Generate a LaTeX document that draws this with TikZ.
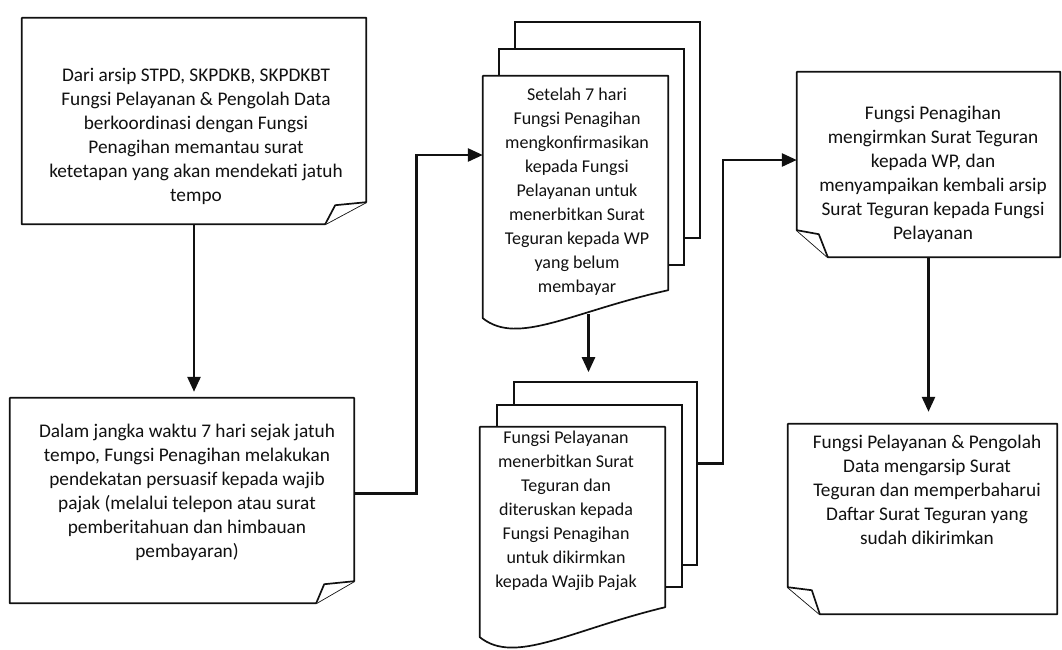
\documentclass[tikz,border=0pt]{standalone}
\usepackage{fontspec}
\setmainfont{Carlito}
\usetikzlibrary{arrows.meta,calc}
\definecolor{inkcolor}{HTML}{111111}

\begin{document}
\begin{tikzpicture}[x=1pt, y=-1pt,
        page/.style = {rectangle, draw = inkcolor, fill = white, line width = 1.7pt, inner sep = 0pt},
        outline/.style = {draw = inkcolor, fill = white, line width = 1.7pt, line join = round},
        link/.style = {-{Triangle[width = 13pt, length = 15pt]}, line width = 2.6pt, draw = inkcolor},
        txt/.style = {align = center, text = inkcolor, font = \fontsize{19.3}{24}\selectfont},
        doctxt/.style = {align = center, text = inkcolor, font = \fontsize{18}{24}\selectfont}]
        \fill [white] (0, 0) rectangle (1062, 649);
        \useasboundingbox (0, 0) rectangle (1062, 649);

        % Nodes (areas of the notes)
        \node [inner sep = 0pt, minimum width = 344pt, minimum height = 206pt] (arsip) at (194, 121) {};
        \node [inner sep = 0pt, minimum width = 344pt, minimum height = 205pt] (persuasif) at (182, 500.5) {};
        \node [inner sep = 0pt, minimum width = 263pt, minimum height = 185pt] (kirim) at (928.5, 164.5) {};
        \node [inner sep = 0pt, minimum width = 269pt, minimum height = 190pt] (arsipSurat) at (922.5, 519) {};

        % Stacked pages
        \node [page, minimum width = 185pt, minimum height = 216pt] (konfirmasiBack) at (607.5, 130) {};
        \node [page, minimum width = 185pt, minimum height = 216pt] (konfirmasiMid) at (591.5, 157) {};
        \node [inner sep = 0pt, minimum width = 185pt, minimum height = 242pt] (konfirmasi) at (575.5, 197) {};
        \node [page, minimum width = 183pt, minimum height = 183pt] (terbitBack) at (605.5, 473.5) {};
        \node [page, minimum width = 185pt, minimum height = 182pt] (terbitMid) at (589.5, 496) {};
        \node [inner sep = 0pt, minimum width = 185pt, minimum height = 210pt] (terbit) at (572.5, 532) {};

        % Outlines
        \draw [outline] (arsip.north west) -- (arsip.north east) -- ($(arsip.south east) + (0, -22)$) -- ($(arsip.south east) + (-41, 0)$) -- (arsip.south west) -- cycle;
        \draw [outline] ($(arsip.south east) + (0, -22)$) -- ($(arsip.south east) + (-31, -19)$) -- ($(arsip.south east) + (-41, 0)$);
        \draw [outline] (persuasif.north west) -- (persuasif.north east) -- ($(persuasif.south east) + (0, -22)$) -- ($(persuasif.south east) + (-38, 0)$) -- (persuasif.south west) -- cycle;
        \draw [outline] ($(persuasif.south east) + (0, -22)$) -- ($(persuasif.south east) + (-30, -19)$) -- ($(persuasif.south east) + (-38, 0)$);
        \draw [outline] (kirim.north west) -- (kirim.north east) -- (kirim.south east) -- ($(kirim.south west) + (31, 0)$) -- ($(kirim.south west) + (0, -27)$) -- cycle;
        \draw [outline] ($(kirim.south west) + (0, -27)$) -- ($(kirim.south west) + (22, -23)$) -- ($(kirim.south west) + (31, 0)$);
        \draw [outline] (arsipSurat.north west) -- (arsipSurat.north east) -- (arsipSurat.south east) -- ($(arsipSurat.south west) + (32, 0)$) -- ($(arsipSurat.south west) + (0, -27)$) -- cycle;
        \draw [outline] ($(arsipSurat.south west) + (0, -27)$) -- ($(arsipSurat.south west) + (24, -24)$) -- ($(arsipSurat.south west) + (32, 0)$);
        \draw [outline] (konfirmasi.north west) -- (konfirmasi.north east) -- ($(konfirmasi.south east) + (0, -28)$) .. controls ($(konfirmasi.south west) + (90, -7)$) and ($(konfirmasi.south west) + (35, 28)$) .. (konfirmasi.south west) -- cycle;
        \draw [outline] (terbit.north west) -- (terbit.north east) -- ($(terbit.south east) + (0, -30)$) .. controls ($(terbit.south west) + (90, -7)$) and ($(terbit.south west) + (35, 28)$) .. (terbit.south west) -- cycle;

        % Texts
        \node [txt] (arsipText) at (196, 136) {Dari arsip STPD, SKPDKB, SKPDKBT\\Fungsi Pelayanan \& Pengolah Data\\berkoordinasi dengan Fungsi\\Penagihan memantau surat\\ketetapan yang akan mendekati jatuh\\tempo};
        \node [txt] (persuasifText) at (187, 492) {Dalam jangka waktu 7 hari sejak jatuh\\tempo, Fungsi Penagihan melakukan\\pendekatan persuasif kepada wajib\\pajak (melalui telepon atau surat\\pemberitahuan dan himbauan\\pembayaran)};
        \node [doctxt] (konfirmasiText) at (577, 192) {Setelah 7 hari\\Fungsi Penagihan\\mengkonfirmasikan\\kepada Fungsi\\Pelayanan untuk\\menerbitkan Surat\\Teguran kepada WP\\yang belum\\membayar};
        \node [doctxt] (terbitText) at (566, 511) {Fungsi Pelayanan\\menerbitkan Surat\\Teguran dan\\diteruskan kepada\\Fungsi Penagihan\\untuk dikirmkan\\kepada Wajib Pajak};
        \node [txt] (kirimText) at (933, 174) {Fungsi Penagihan\\mengirmkan Surat Teguran\\kepada WP, dan\\menyampaikan kembali arsip\\Surat Teguran kepada Fungsi\\Pelayanan};
        \node [txt] (arsipSuratText) at (927, 490) {Fungsi Pelayanan \& Pengolah\\Data mengarsip Surat\\Teguran dan memperbaharui\\Daftar Surat Teguran yang\\sudah dikirimkan};

        % Draw the links
        \draw [link, shorten >= 6pt] (arsip.south) -- (arsip.south |- persuasif.north);
        \draw [link] ([yshift = 7pt]persuasif.east) -- ++(62, 0) |- ([yshift = 42pt]konfirmasi.west);
        \draw [link] ([xshift = 13pt, yshift = 4pt]konfirmasi.south) -- ([xshift = -17pt, yshift = 9pt]terbitBack.north);
        \draw [link] ([yshift = 10pt]terbitBack.east) -- ++(25, 0) |- ([yshift = 4.5pt]kirim.west);
        \draw [link, shorten >= 12pt] (kirim.south) -- (kirim.south |- arsipSurat.north);

    \end{tikzpicture}
\end{document}
